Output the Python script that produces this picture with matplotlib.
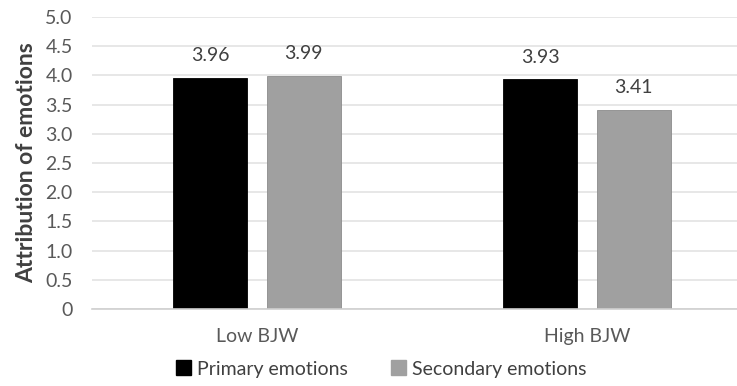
import numpy as np
import matplotlib
matplotlib.use("Agg")
import matplotlib.pyplot as plt
from matplotlib.patches import Patch

groups = ["Low BJW", "High BJW"]
primary = [3.96, 3.93]
secondary = [3.99, 3.41]
yticks = [0, 0.5, 1.0, 1.5, 2.0, 2.5, 3.0, 3.5, 4.0, 4.5, 5.0]
ytick_labels = ["0", "0.5", "1.0", "1.5", "2.0", "2.5", "3.0", "3.5", "4.0", "4.5", "5.0"]

plt.rcParams['font.family'] = ['Lato', 'DejaVu Sans']
txt = '#404040'

fig = plt.figure(figsize=(7.37, 3.86), dpi=100)
# axes run past the right edge, like the cropped original
ax = fig.add_axes([92 / 737, 1 - 309 / 386, 660 / 737, 292 / 386])

x = np.arange(len(groups))
w = 0.224
off = 0.142
b1 = ax.bar(x - off, primary, w, color='black', edgecolor='black', linewidth=0.6, zorder=3)
b2 = ax.bar(x + off, secondary, w, color='#a0a0a0', edgecolor='#8c8c8c', linewidth=0.6, zorder=3)

for bars, vals in [(b1, primary), (b2, secondary)]:
    for r, v in zip(bars, vals):
        ax.annotate(f"{v:.2f}", (r.get_x() + r.get_width() / 2, v), xytext=(0, 10),
                    textcoords='offset points', ha='center', va='bottom',
                    fontsize=14, color=txt)

ax.set_xlim(-0.5, 1.5)
ax.set_ylim(0, 5)
ax.set_yticks(yticks)
ax.set_yticklabels(ytick_labels)
ax.set_xticks(x)
ax.set_xticklabels(groups)
ax.tick_params(axis='both', length=0, labelsize=14, labelcolor='#595959')
ax.tick_params(axis='x', pad=14)
ax.tick_params(axis='y', pad=14)
ax.grid(axis='y', color='#e3e3e3', linewidth=1.2, zorder=0)
for s in ['top', 'right', 'left']:
    ax.spines[s].set_visible(False)
ax.spines['bottom'].set_color('#d0d0d0')
ax.spines['bottom'].set_linewidth(1.2)
ax.spines['bottom'].set_zorder(4)

ax.set_ylabel("Attribution of emotions", fontsize=16.5, fontweight='bold', color=txt, labelpad=6)

handles = [Patch(facecolor='black', edgecolor='black', label='Primary emotions'),
           Patch(facecolor='#a0a0a0', edgecolor='#a0a0a0', label='Secondary emotions')]
fig.legend(handles=handles, loc='center', bbox_to_anchor=(381 / 737, 1 - 369 / 386), ncol=2,
           frameon=False, fontsize=14, handlelength=0.8, handleheight=0.8,
           handletextpad=0.3, columnspacing=2.2, labelcolor=txt)

fig.savefig("out.png", dpi=100)
